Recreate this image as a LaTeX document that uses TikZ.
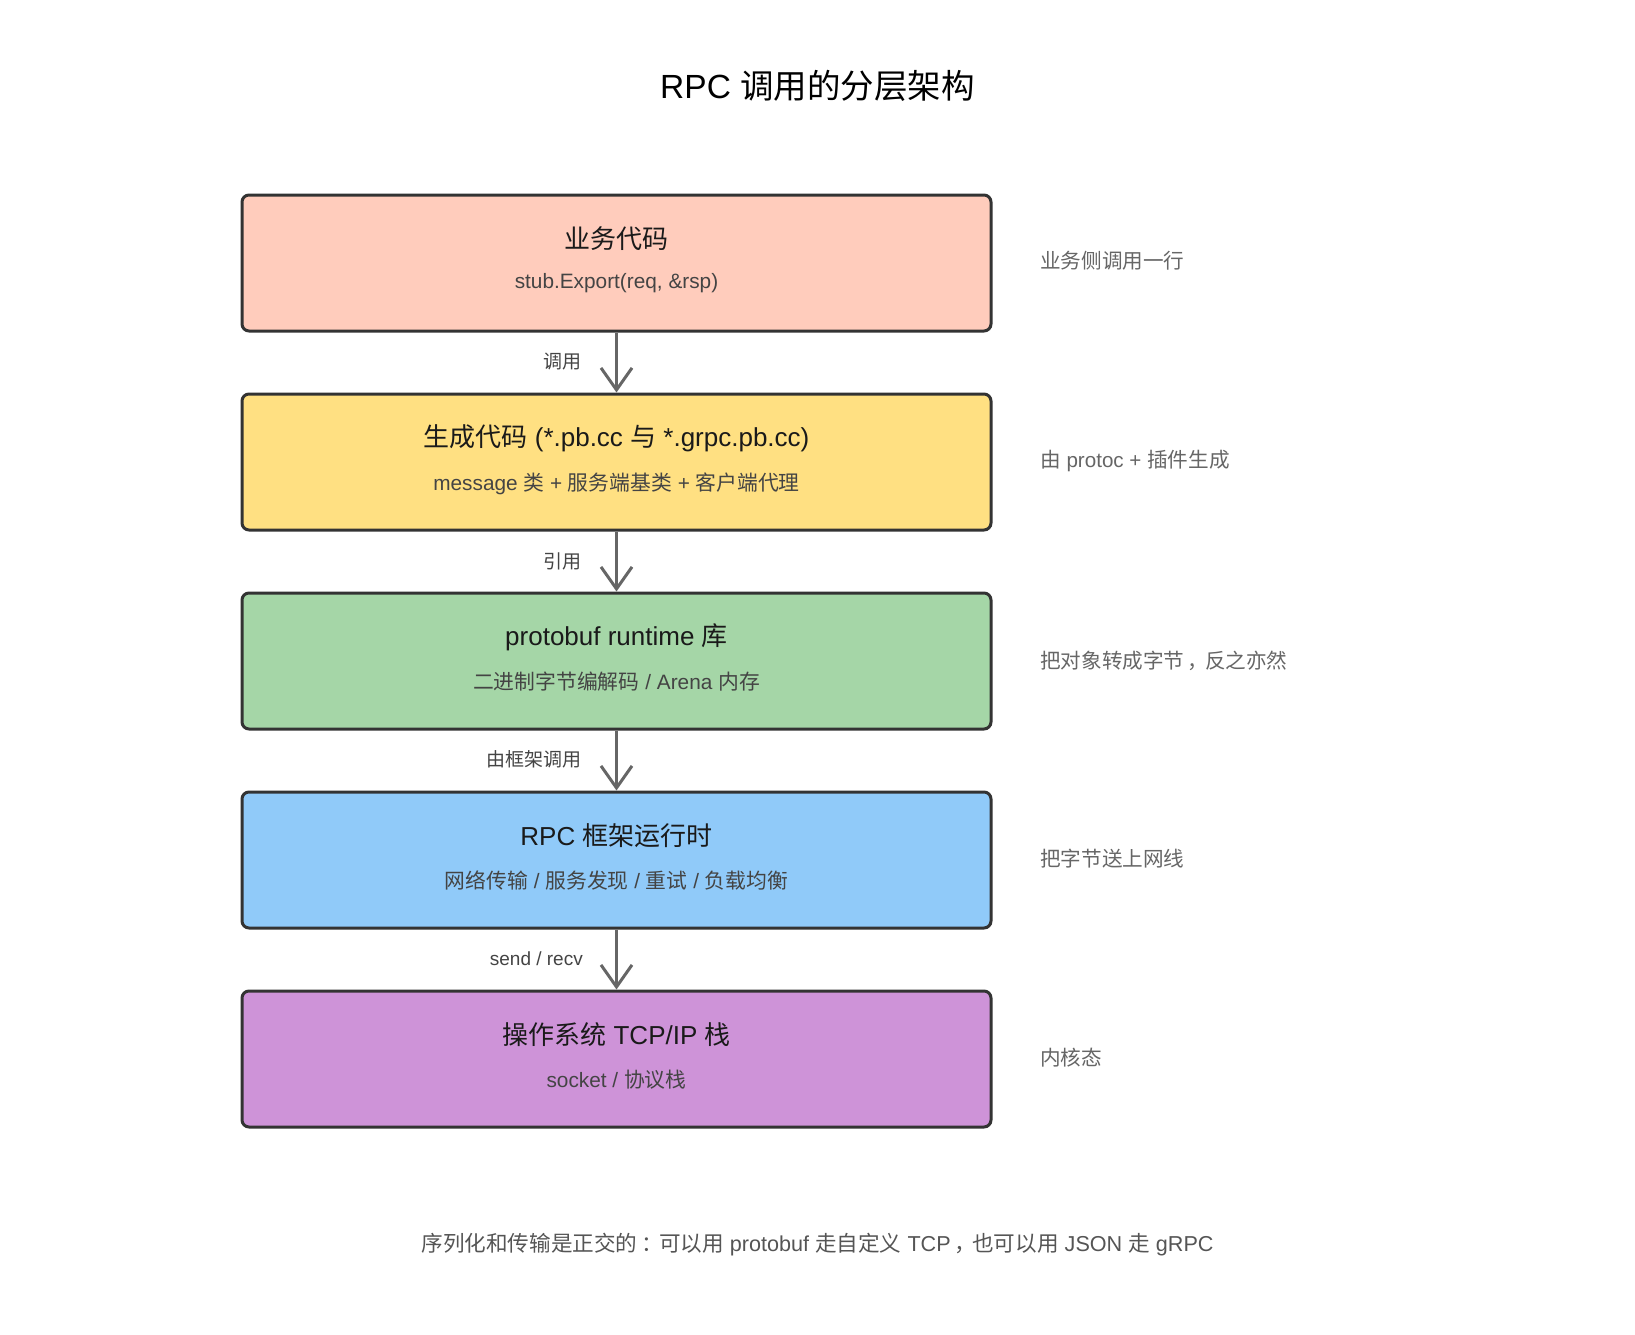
\documentclass[tikz,border=0pt]{standalone}
\usepackage{fontspec}
\setmainfont{Liberation Sans}
\newfontfamily\cjk{Noto Sans CJK SC}
\newcommand\zh[1]{{\cjk #1}}
\usetikzlibrary{arrows.meta}
\definecolor{cpink}{HTML}{FFCCBC}
\definecolor{cyellow}{HTML}{FFE082}
\definecolor{cgreen}{HTML}{A5D6A7}
\definecolor{cblue}{HTML}{90CAF9}
\definecolor{cpurple}{HTML}{CE93D8}
\definecolor{cborder}{HTML}{333333}
\definecolor{ctitle}{HTML}{1A1A1A}
\definecolor{csub}{HTML}{444444}
\definecolor{cnote}{HTML}{666666}
\definecolor{carrow}{HTML}{666666}
\definecolor{cfoot}{HTML}{555555}
\begin{document}
\begin{tikzpicture}[x=1pt,y=-1pt,
  layer/.style={draw=cborder, line width=3pt, rounded corners=7pt, minimum width=749pt, minimum height=136pt, inner sep=0pt},
  ttl/.style={font=\fontsize{26}{31}\selectfont, text=ctitle, inner sep=0pt},
  sub/.style={font=\fontsize{20.8}{25}\selectfont, text=csub, inner sep=0pt},
  note/.style={font=\fontsize{20.6}{25}\selectfont, text=cnote, anchor=west, inner sep=0pt},
  elab/.style={font=\fontsize{19}{23}\selectfont, text=csub, anchor=east, inner sep=0pt},
  flow/.style={draw=carrow, line width=3pt, -{Straight Barb[length=22pt,width=31pt]}}
]
\useasboundingbox[fill=white] (0,0) rectangle (1635,1335);

\node[font=\fontsize{33.5}{40}\selectfont, text=black] (title) at (817.5,86) {RPC \zh{调用的分层架构}};

% layers
\node[layer, fill=cpink]   (b1) at (616.5,263) {};
\node[layer, fill=cyellow] (b2) at (616.5,462) {};
\node[layer, fill=cgreen]  (b3) at (616.5,661) {};
\node[layer, fill=cblue]   (b4) at (616.5,860) {};
\node[layer, fill=cpurple] (b5) at (616.5,1059) {};

\node[ttl] (t1) at (616.5,238.5) {\zh{业务代码}};
\node[sub] (s1) at (616.5,283.5) {stub.Export(req, \&rsp)};
\node[ttl] (t2) at (616.5,438) {\zh{生成代码} (*.pb.cc \zh{与} *.grpc.pb.cc)};
\node[sub] (s2) at (616.5,483.5) {message \zh{类} + \zh{服务端基类} + \zh{客户端代理}};
\node[ttl] (t3) at (616.5,637) {protobuf runtime \zh{库}};
\node[sub] (s3) at (616.5,681.5) {\zh{二进制字节编解码} / Arena \zh{内存}};
\node[ttl] (t4) at (616.5,835.5) {RPC \zh{框架运行时}};
\node[sub] (s4) at (616.5,880) {\zh{网络传输} / \zh{服务发现} / \zh{重试} / \zh{负载均衡}};
\node[ttl] (t5) at (616.5,1035) {\zh{操作系统} TCP/IP \zh{栈}};
\node[sub] (s5) at (616.5,1079.5) {socket / \zh{协议栈}};

% side notes
\node[note] (n1) at (1040,261) {\zh{业务侧调用一行}};
\node[note] (n2) at (1040,461) {\zh{由} protoc + \zh{插件生成}};
\node[note] (n3) at (1040,661) {\zh{把对象转成字节\hspace{3pt}，\hspace{-3pt}反之亦然}};
\node[note] (n4) at (1040,859) {\zh{把字节送上网线}};
\node[note] (n5) at (1040,1058) {\zh{内核态}};

% arrows
\draw[flow] (b1.south) -- (b2.north);
\draw[flow] (b2.south) -- (b3.north);
\draw[flow] (b3.south) -- (b4.north);
\draw[flow] (b4.south) -- (b5.north);

\node[elab] (e1) at (582,362) {\zh{调用}};
\node[elab] (e2) at (582,561) {\zh{引用}};
\node[elab] (e3) at (582,759) {\zh{由框架调用}};
\node[elab] (e4) at (583,959) {send / recv};

\node[font=\fontsize{21.6}{26}\selectfont, text=cfoot] (foot) at (817.5,1245)
  {\zh{序列化和传输是正交的\hspace{4pt}：\hspace{-4pt}可以用} protobuf \zh{走自定义} TCP\hspace{4pt}\zh{，\hspace{-4pt}也可以用} JSON \zh{走} gRPC};
\end{tikzpicture}
\end{document}
